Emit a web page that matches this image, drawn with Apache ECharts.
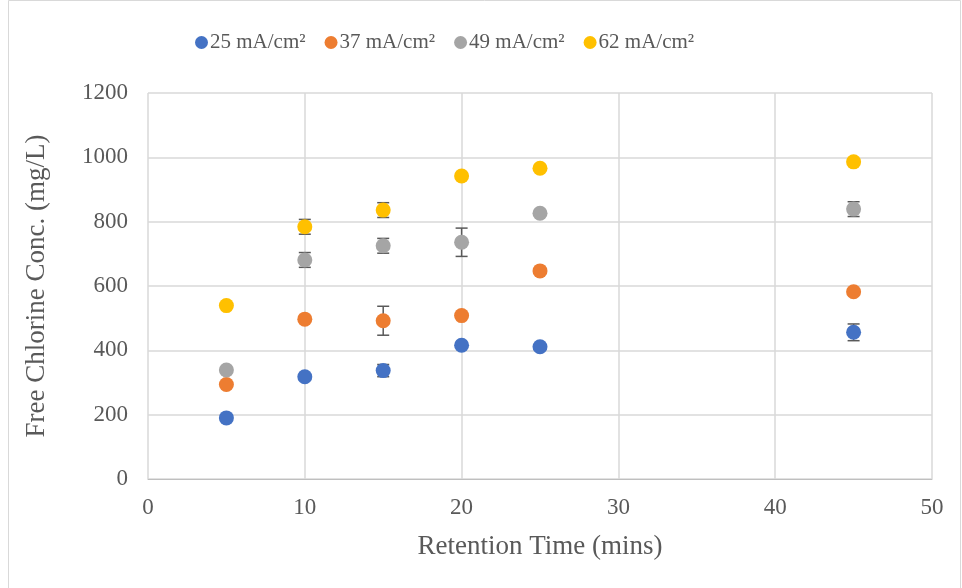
<!DOCTYPE html>
<html><head><meta charset="utf-8">
<script src="https://cdn.jsdelivr.net/npm/echarts@6/dist/echarts.min.js"></script>
<style>html,body{margin:0;padding:0;background:#fff}#c{width:962px;height:588px}</style>
</head><body><div id="c"></div>
<script>
var times = [5, 10, 15, 20, 25, 45];
var names = ['25 mA/cm²', '37 mA/cm²', '49 mA/cm²', '62 mA/cm²'];
var colors = ['#4472C4', '#ED7D31', '#A5A5A5', '#FFC000'];
var v25 = [190, 318, 337, 416, 411, 456];
var v37 = [294, 497, 492, 508, 647, 582];
var v49 = [339, 681, 725, 736, 826, 839];
var v62 = [539, 784, 836, 942, 966, 986];
var e25 = [0, 0, 19, 0, 0, 26];
var e37 = [0, 0, 45, 0, 0, 0];
var e49 = [0, 23, 23, 44, 0, 23];
var e62 = [0, 23, 23, 0, 0, 0];
var yTicks = [0, 200, 400, 600, 800, 1000, 1200];
var xTicks = [0, 10, 20, 30, 40, 50];

var vals = [v25, v37, v49, v62];
var errs = [e25, e37, e49, e62];
var font = '"Liberation Serif", "Times New Roman", serif';

var series = [];
vals.forEach(function (v, i) {
  series.push({
    name: names[i], type: 'scatter', symbol: 'circle', symbolSize: 15, z: 5,
    itemStyle: { color: colors[i], opacity: 1 },
    data: times.map(function (t, k) { return [t, v[k]]; })
  });
  series.push({
    name: names[i] + '_err', type: 'custom', z: 3, silent: true,
    renderItem: function (params, api) {
      var x = api.value(0), y = api.value(1), e = api.value(2);
      if (!e) return null;
      var top = api.coord([x, y + e]), bot = api.coord([x, y - e]);
      var w = 6;
      var st = { stroke: '#595959', lineWidth: 1.5 };
      return { type: 'group', children: [
        { type: 'line', shape: { x1: top[0], y1: top[1], x2: bot[0], y2: bot[1] }, style: st },
        { type: 'line', shape: { x1: top[0] - w, y1: top[1], x2: top[0] + w, y2: top[1] }, style: st },
        { type: 'line', shape: { x1: bot[0] - w, y1: bot[1], x2: bot[0] + w, y2: bot[1] }, style: st }
      ]};
    },
    data: times.map(function (t, k) { return [t, v[k], errs[i][k]]; })
  });
});

var chart = echarts.init(document.getElementById('c'));
chart.setOption({
  backgroundColor: '#fff',
  animation: false,
  graphic: [{ type: 'rect', shape: { x: 8.5, y: 0.5, width: 952, height: 600 }, style: { fill: 'none', stroke: '#d9d9d9', lineWidth: 1 } }],
  legend: {
    data: names, top: 27, left: 190, itemWidth: 13, itemHeight: 13, itemGap: 19,
    icon: 'circle',
    textStyle: { fontFamily: font, fontSize: 21, color: '#595959', padding: [0, 0, 0, -3] }
  },
  grid: { left: 148, right: 30, top: 93, bottom: 109 },
  xAxis: {
    type: 'value', min: 0, max: 50, interval: 10,
    name: 'Retention Time (mins)', nameLocation: 'middle', nameGap: 54,
    nameTextStyle: { fontFamily: font, fontSize: 27, color: '#595959' },
    axisLine: { show: true, lineStyle: { color: '#bfbfbf', width: 1 } },
    axisTick: { show: false },
    axisLabel: { fontFamily: font, fontSize: 23, color: '#595959', margin: 17,
      formatter: function (v) { return xTicks.indexOf(v) >= 0 ? String(v) : ''; } },
    splitLine: { show: true, lineStyle: { color: '#d9d9d9', width: 1.5 } }
  },
  yAxis: {
    type: 'value', min: 0, max: 1200, interval: 200,
    name: 'Free Chlorine Conc. (mg/L)', nameLocation: 'middle', nameGap: 98,
    nameTextStyle: { fontFamily: font, fontSize: 27, color: '#595959' },
    axisLine: { show: false },
    axisTick: { show: false },
    axisLabel: { fontFamily: font, fontSize: 23, color: '#595959', margin: 20,
      formatter: function (v) { return yTicks.indexOf(v) >= 0 ? String(v) : ''; } },
    splitLine: { show: true, lineStyle: { color: '#d9d9d9', width: 1.5 } }
  },
  series: series
});
</script></body></html>
